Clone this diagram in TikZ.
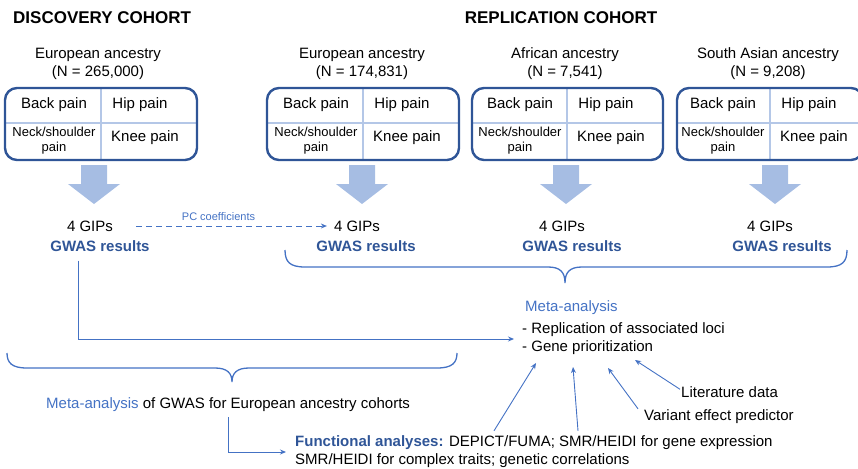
\documentclass[tikz,border=0pt]{standalone}
\usepackage{fontspec}
\setmainfont{Liberation Sans}
\usetikzlibrary{arrows.meta,positioning,calc}

\definecolor{boxblue}{HTML}{2F5597}
\definecolor{gridblue}{HTML}{B4C7E7}
\definecolor{fatblue}{HTML}{A6BDE3}
\definecolor{lineblue}{HTML}{4472C4}

\tikzset{
  txt/.style={font=\fontsize{15}{18}\selectfont, inner sep=1pt, align=center},
  small/.style={font=\fontsize{13}{15}\selectfont, inner sep=1pt, align=center},
  head/.style={font=\fontsize{17}{20}\selectfont\bfseries, inner sep=1pt},
  gwas/.style={txt, text=boxblue, font=\fontsize{15}{18}\selectfont\bfseries},
  flow/.style={lineblue, line width=0.9pt, -{Stealth[length=6pt,width=5pt]}},
  brace/.style={lineblue, line width=1.3pt},
}

\begin{document}
\begin{tikzpicture}[x=1pt, y=-1pt]
        \useasboundingbox (0,0) rectangle (858,468);
        \node[head, anchor=west] (disc) at (12,18) {DISCOVERY COHORT};
        \node[head] (repl) at (561,18) {REPLICATION COHORT};
        % one column per cohort: box, arrow, results
        \foreach \n/\l/\d/\r/\t/\a/\g/\w/\pop/\num in {
            1/5/101/197/98/94/90/100/European ancestry/{265,000},
            2/267/363/459/362/362/357/366/European ancestry/{174,831},
            3/472/567/663/565/566/562/572/African ancestry/{7,541},
            4/677/770/863/768/775/770/782/South Asian ancestry/{9,208}} {
          \node[txt] (pop\n) at (\t,64) {\pop\\(N = \num)};
          \draw[gridblue, line width=1.3pt] (\d,89) -- (\d,159) (\l+1,123) -- (\r-1,123);
          \draw[boxblue, line width=2.4pt, rounded corners=12pt] (\l,88) rectangle (\r,160);
          \node[txt] (back\n) at (\d-47,105) {Back pain};
          \node[txt] (hip\n) at (\d+39,105) {Hip pain};
          \node[small] (neck\n) at (\d-47,140.5) {Neck/shoulder\\pain};
          \node[txt] (knee\n) at (\d+44,138) {Knee pain};
          \fill[fatblue] (\a-13,165) -- (\a+13,165) -- (\a+13,184) -- (\a+26,184)
            -- (\a,204) -- (\a-26,184) -- (\a-13,184) -- cycle;
          \node[txt] (gip\n) at (\g,226) {4 GIPs};
          \node[gwas] (gwas\n) at (\w,246) {GWAS results};
        }
        \draw[flow, dashed, dash pattern=on 6pt off 4pt, shorten <=22pt, shorten >=6pt]
          (gip1) -- (gip2) node[midway, above=2pt, font=\fontsize{11}{13}\selectfont, text=lineblue, xshift=-5pt] (pc) {PC coefficients};
        % braces
        \draw[brace] (285,250) .. controls (285,262) and (290,267) .. (305,267) -- (548,267)
          .. controls (560,267) and (565,272) .. (565,283) .. controls (565,272) and (570,267) .. (582,267)
          -- (827,267) .. controls (842,267) and (847,262) .. (847,250);
        \draw[brace] (7,353) .. controls (7,363) and (12,368) .. (27,368) -- (215,368)
          .. controls (227,368) and (232,373) .. (232,382) .. controls (232,373) and (237,368) .. (249,368)
          -- (437,368) .. controls (452,368) and (457,363) .. (457,353);
        % meta-analysis of all cohorts
        \node[txt, text=lineblue, anchor=west] (meta) at (524,308) {Meta-analysis};
        \node[txt, anchor=west, align=left] (metalist) at (521,339) {- Replication of associated loci\\- Gene prioritization};
        \draw[flow, shorten >=7pt] ([xshift=-22pt, yshift=-8pt]gwas1.south) |- (metalist.west);
        % european meta-analysis
        \node[txt, anchor=west] (eurmeta) at (45,405) {\textcolor{lineblue}{Meta-analysis} of GWAS for European ancestry cohorts};
        \node[txt, anchor=west, align=left] (func) at (294,452) {\textcolor{boxblue}{\bfseries Functional analyses:} DEPICT/FUMA; SMR/HEIDI for gene expression\\SMR/HEIDI for complex traits; genetic correlations};
        \draw[flow, shorten >=8pt] ([yshift=-4pt]eurmeta.south) |- (func.west);
        \node[txt, anchor=west] (lit) at (680,392) {Literature data};
        \node[txt, anchor=west] (vep) at (643,417) {Variant effect predictor};
        % sources for gene prioritization
        \coordinate (gp1) at (536,363);
        \coordinate (gp2) at (573,367);
        \coordinate (gp3) at (608,368);
        \coordinate (gp4) at (635,360);
        \draw[flow] ([xshift=200pt, yshift=4pt]func.north west) -- (gp1);
        \draw[flow] ([xshift=284pt, yshift=4pt]func.north west) -- (gp2);
        \draw[flow] ([xshift=-5pt]vep.north west) -- (gp3);
        \draw[flow] ([yshift=-4pt]lit.north west) -- (gp4);
\end{tikzpicture}
\end{document}
